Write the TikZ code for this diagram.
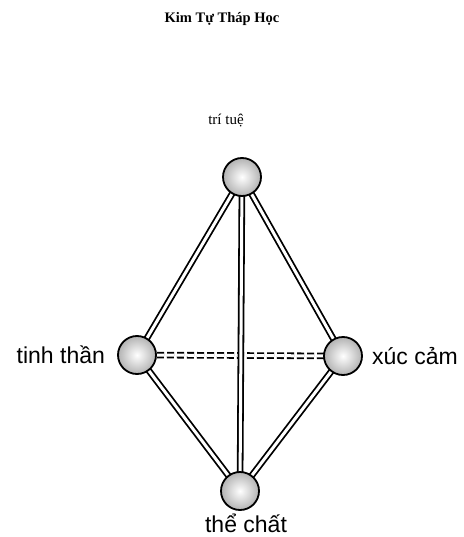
\documentclass[tikz,border=0pt]{standalone}
\usepackage{fontspec}
\setmainfont{Liberation Serif}
\newfontfamily\etichettafont{Liberation Sans}
\usepackage{tikz}
\usetikzlibrary{positioning}

\begin{document}
\begin{tikzpicture}[x=1pt, y=-1pt,
        vertice/.style={circle, draw=black, line width=1.8pt, minimum size=38pt, inner sep=0pt,
            inner color=white, outer color=gray!60},
        lato/.style={line width=1.8pt, double=white, double distance=3pt},
        nascosto/.style={lato, dash pattern=on 7pt off 3pt},
        etichetta/.style={inner sep=0pt, font=\etichettafont\fontsize{23}{27}\selectfont}]
    \useasboundingbox (0,0) rectangle (463,537);

    % Titolo
    \node (titolo) at (222,19) {\fontsize{14.5}{17}\selectfont\textbf{Kim Tự Tháp Học}};
    \node (tritue) at (226,121) {\fontsize{15}{18}\selectfont trí tuệ};

    % Vertici
    \coordinate (pA) at (242,177);
    \coordinate (pS) at (137,355);
    \coordinate (pX) at (343,356);
    \coordinate (pB) at (240,491);

    % Spigoli
    \draw[nascosto] (pS) -- (pX);
    \draw[lato] (pA) -- (pS);
    \draw[lato] (pA) -- (pX);
    \draw[lato] (pS) -- (pB);
    \draw[lato] (pX) -- (pB);
    \draw[lato] (pA) -- (pB);

    \node[vertice] (alto) at (pA) {};
    \node[vertice] (sinistro) at (pS) {};
    \node[vertice] (destro) at (pX) {};
    \node[vertice] (basso) at (pB) {};

    % Etichette
    \node[etichetta, left=12pt of sinistro] (tinhthan) {tinh thần};
    \node[etichetta, right=9pt of destro] (xuccam) {xúc cảm};
    \node[etichetta, below=3pt of basso, xshift=6pt] (thechat) {thể chất};
\end{tikzpicture}
\end{document}
